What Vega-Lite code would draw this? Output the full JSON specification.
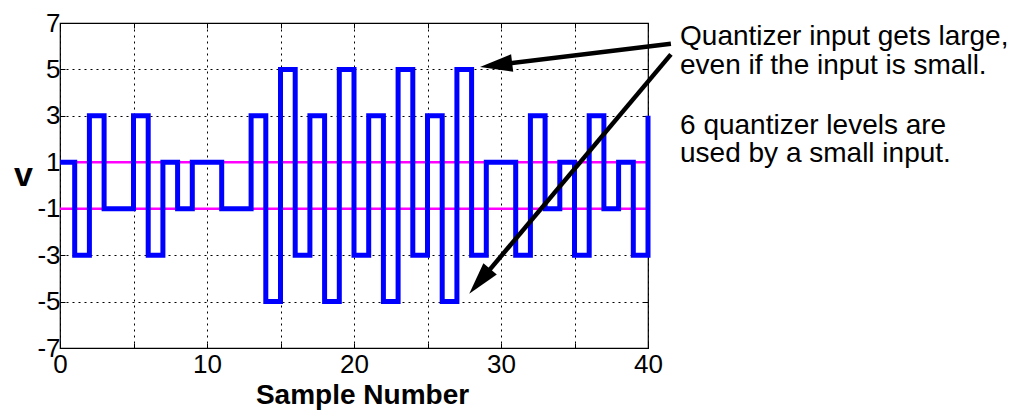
{
  "$schema": "https://vega.github.io/schema/vega-lite/v6.json",
  "width": 588,
  "height": 325,
  "autosize": {"type": "none"},
  "padding": {"left": 60, "top": 23, "right": 370, "bottom": 63},
  "background": "white",
  "config": {
    "view": {"stroke": "black", "strokeWidth": 1.2},
    "font": "Liberation Sans",
    "axis": {
      "labelFont": "Liberation Sans",
      "labelFontSize": 26,
      "labelColor": "black",
      "labelFlush": false,
      "labelOverlap": false,
      "labelBound": false,
      "domain": false,
      "ticks": true,
      "tickSize": -5,
      "tickColor": "black",
      "tickWidth": 1,
      "gridColor": "black",
      "gridDash": [2, 4],
      "gridOpacity": 1,
      "gridWidth": 1,
      "titleFont": "Liberation Sans",
      "titleFontWeight": "bold",
      "titleColor": "black"
    }
  },
  "resolve": {"axis": {"x": "independent", "y": "independent"}},
  "datasets": {
    "samples": [
      {"n": 0, "v": 1}, {"n": 1, "v": -3}, {"n": 2, "v": 3}, {"n": 3, "v": -1}, {"n": 4, "v": -1},
      {"n": 5, "v": 3}, {"n": 6, "v": -3}, {"n": 7, "v": 1}, {"n": 8, "v": -1}, {"n": 9, "v": 1},
      {"n": 10, "v": 1}, {"n": 11, "v": -1}, {"n": 12, "v": -1}, {"n": 13, "v": 3}, {"n": 14, "v": -5},
      {"n": 15, "v": 5}, {"n": 16, "v": -3}, {"n": 17, "v": 3}, {"n": 18, "v": -5}, {"n": 19, "v": 5},
      {"n": 20, "v": -3}, {"n": 21, "v": 3}, {"n": 22, "v": -5}, {"n": 23, "v": 5}, {"n": 24, "v": -3},
      {"n": 25, "v": 3}, {"n": 26, "v": -5}, {"n": 27, "v": 5}, {"n": 28, "v": -3}, {"n": 29, "v": 1},
      {"n": 30, "v": 1}, {"n": 31, "v": -3}, {"n": 32, "v": 3}, {"n": 33, "v": -1}, {"n": 34, "v": 1},
      {"n": 35, "v": -3}, {"n": 36, "v": 3}, {"n": 37, "v": -1}, {"n": 38, "v": 1}, {"n": 39, "v": -3},
      {"n": 40, "v": 3}
    ],
    "levels": [
      {"from": 0, "to": 40, "level": 1},
      {"from": 0, "to": 40, "level": -1}
    ],
    "arrows": [
      {"id": "a", "x0": 41.56, "y0": 6.11, "x1": 29.92, "y1": 5.21, "xt": 28.57, "yt": 5.11},
      {"id": "b", "x0": 41.56, "y0": 5.65, "x1": 28.72, "y1": -4.01, "xt": 27.84, "yt": -4.66}
    ],
    "notes": [
      {"x": 42.18, "y": 6.07, "text": "Quantizer input gets large,"},
      {"x": 42.18, "y": 4.82, "text": "even if the input is small."},
      {"x": 42.18, "y": 2.2, "text": "6 quantizer levels are"},
      {"x": 42.18, "y": 1.02, "text": "used by a small input."}
    ]
  },
  "layer": [
    {
      "data": {"name": "levels"},
      "mark": {"type": "rule", "color": "#ff00ff", "strokeWidth": 2.5},
      "encoding": {
        "x": {
          "field": "from", "type": "quantitative",
          "scale": {"domain": [0, 40], "nice": false, "zero": false},
          "axis": {
            "values": [0, 5, 10, 15, 20, 25, 30, 35, 40],
            "labelExpr": "datum.value % 10 === 0 ? '' + datum.value : ''",
            "labelPadding": 8,
            "title": "Sample Number",
            "titleFontSize": 28,
            "titleX": 302,
            "titleY": 55,
            "titleBaseline": "alphabetic",
            "titleAlign": "center",
            "titlePadding": 0
          }
        },
        "x2": {"field": "to"},
        "y": {
          "field": "level", "type": "quantitative",
          "scale": {"domain": [-7, 7], "nice": false, "zero": false},
          "axis": {
            "values": [-7, -5, -3, -1, 1, 3, 5, 7],
            "labelExpr": "'' + datum.value",
            "labelPadding": 5,
            "labelBaseline": "middle",
            "title": "v",
            "titleFontSize": 34,
            "titleAngle": 0,
            "titleX": -37,
            "titleY": 162,
            "titleAlign": "center",
            "titleBaseline": "alphabetic"
          }
        }
      }
    },
    {
      "data": {"name": "samples"},
      "mark": {"type": "line", "interpolate": "step-after", "color": "#0000ff", "strokeWidth": 5, "strokeJoin": "miter", "strokeCap": "butt"},
      "encoding": {
        "x": {"field": "n", "type": "quantitative", "axis": {"orient": "top", "values": [0, 5, 10, 15, 20, 25, 30, 35, 40], "labels": false, "grid": false, "title": null}},
        "y": {"field": "v", "type": "quantitative", "axis": {"orient": "right", "values": [-7, -5, -3, -1, 1, 3, 5, 7], "labels": false, "grid": false, "title": null}}
      }
    },
    {
      "data": {"name": "arrows"},
      "mark": {"type": "rule", "color": "black", "strokeWidth": 4.5, "strokeCap": "butt"},
      "encoding": {
        "x": {"field": "x0", "type": "quantitative", "axis": null},
        "y": {"field": "y0", "type": "quantitative", "axis": null},
        "x2": {"field": "x1"},
        "y2": {"field": "y1"}
      }
    },
    {
      "data": {"name": "arrows"},
      "transform": [{"filter": "datum.id === 'a'"}],
      "mark": {"type": "point", "shape": "M0,0L-0.27,1L0.27,1Z", "filled": true, "color": "black", "opacity": 1, "size": 4200, "angle": 263.1},
      "encoding": {
        "x": {"field": "xt", "type": "quantitative", "axis": null},
        "y": {"field": "yt", "type": "quantitative", "axis": null}
      }
    },
    {
      "data": {"name": "arrows"},
      "transform": [{"filter": "datum.id === 'b'"}],
      "mark": {"type": "point", "shape": "M0,0L-0.27,1L0.27,1Z", "filled": true, "color": "black", "opacity": 1, "size": 4200, "angle": 220.05},
      "encoding": {
        "x": {"field": "xt", "type": "quantitative", "axis": null},
        "y": {"field": "yt", "type": "quantitative", "axis": null}
      }
    },
    {
      "data": {"name": "notes"},
      "mark": {"type": "text", "align": "left", "baseline": "alphabetic", "font": "Liberation Sans", "fontSize": 28, "color": "black"},
      "encoding": {
        "x": {"field": "x", "type": "quantitative", "axis": null},
        "y": {"field": "y", "type": "quantitative", "axis": null},
        "text": {"field": "text"}
      }
    }
  ]
}
